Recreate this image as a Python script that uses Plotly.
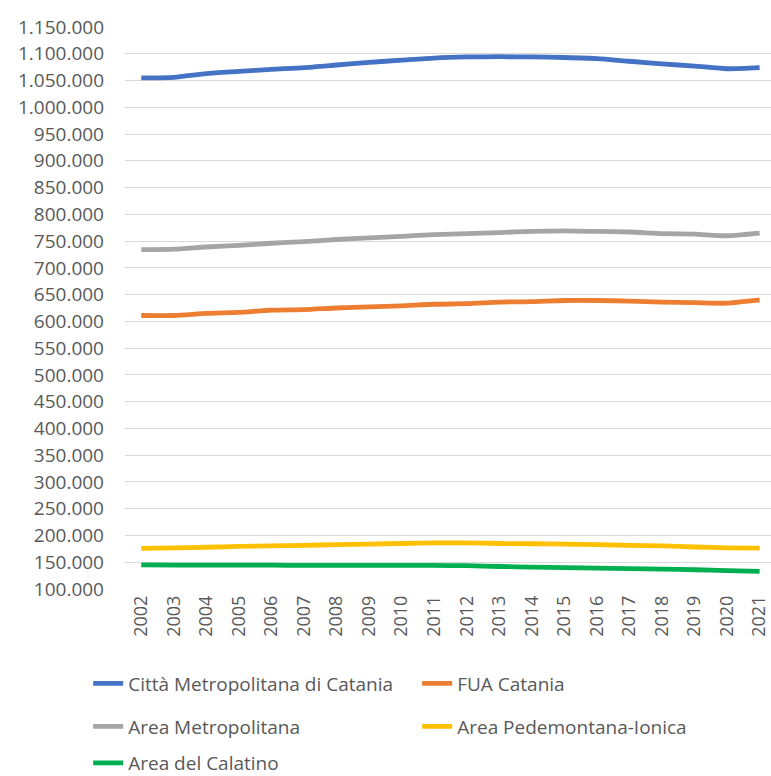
import plotly.graph_objects as go

years = [str(y) for y in range(2002, 2022)]

citta_metropolitana = [1055000, 1056000, 1063000, 1067000, 1071000, 1074000, 1079000, 1084000,
                       1088000, 1092000, 1094000, 1094500, 1094000, 1093000, 1091000, 1086000,
                       1081000, 1077000, 1072000, 1074000]
fua_catania = [611000, 611000, 615000, 617000, 621000, 622000, 625000, 627000, 629000, 632000,
               633000, 636000, 637000, 639000, 639000, 638000, 636000, 635000, 634000, 640000]
area_metropolitana = [734000, 735000, 739000, 742000, 746000, 749000, 753000, 756000, 759000,
                      762000, 764000, 766000, 768000, 769000, 768000, 767000, 764000, 763000,
                      760000, 765000]
area_pedemontana = [176000, 177000, 178000, 179500, 180500, 181500, 183000, 184000, 185000,
                    186000, 186000, 185000, 184500, 184000, 183000, 181500, 180500, 178500,
                    177000, 176500]
area_calatino = [145000, 144500, 144500, 144500, 144500, 144000, 144000, 144000, 144000, 144000,
                 143500, 142000, 141000, 140000, 139000, 138000, 137000, 136000, 134500, 133000]

series = [
    ("Città Metropolitana di Catania", citta_metropolitana, "#4472C4", "legend"),
    ("FUA Catania", fua_catania, "#ED7D31", "legend"),
    ("Area Metropolitana", area_metropolitana, "#A5A5A5", "legend2"),
    ("Area Pedemontana-Ionica", area_pedemontana, "#FFC000", "legend2"),
    ("Area del Calatino", area_calatino, "#00B050", "legend3"),
]

y_ticks = list(range(100000, 1150001, 50000))
y_labels = [f"{v:,}".replace(",", ".") for v in y_ticks]

FONT = "Open Sans"
TXT = "#595959"

fig = go.Figure()
for name, vals, color, leg in series:
    fig.add_trace(go.Scatter(
        x=list(range(len(years))), y=vals, name=name, mode="lines",
        line=dict(color=color, width=4.8, shape="spline", smoothing=0.6),
        legend=leg,
    ))

leg_common = dict(
    orientation="h", xanchor="left", yanchor="top",
    xref="paper", yref="paper",
    font=dict(family=FONT, size=19, color=TXT),
    entrywidth=284, entrywidthmode="pixels",
    bgcolor="rgba(0,0,0,0)", itemwidth=30,
)
legend_left = -0.057

fig.update_layout(
    width=771, height=776,
    margin=dict(l=125, r=0, t=27, b=187, autoexpand=False),
    plot_bgcolor="white", paper_bgcolor="white",
    font=dict(family=FONT, color=TXT),
    xaxis=dict(
        range=[-0.5, 19.35], automargin=False,
        tickmode="array", tickvals=list(range(len(years))), ticktext=years,
        tickangle=-90, tickfont=dict(family=FONT, size=18, color=TXT),
        showgrid=False, zeroline=False, showline=False, ticks="",
        ticklabelstandoff=2,
    ),
    yaxis=dict(
        range=[100000, 1150000], automargin=False,
        tickmode="array", tickvals=y_ticks, ticktext=y_labels,
        tickfont=dict(family=FONT, size=19, color=TXT),
        showgrid=True, gridcolor="#D9D9D9", gridwidth=1.3,
        zeroline=False, showline=False, ticks="",
        ticklabelstandoff=20,
    ),
    legend=dict(x=legend_left, y=-0.1343, **leg_common),
    legend2=dict(x=legend_left, y=-0.2109, **leg_common),
    legend3=dict(x=legend_left, y=-0.2760, **leg_common),
)

fig.write_html("out.html")
